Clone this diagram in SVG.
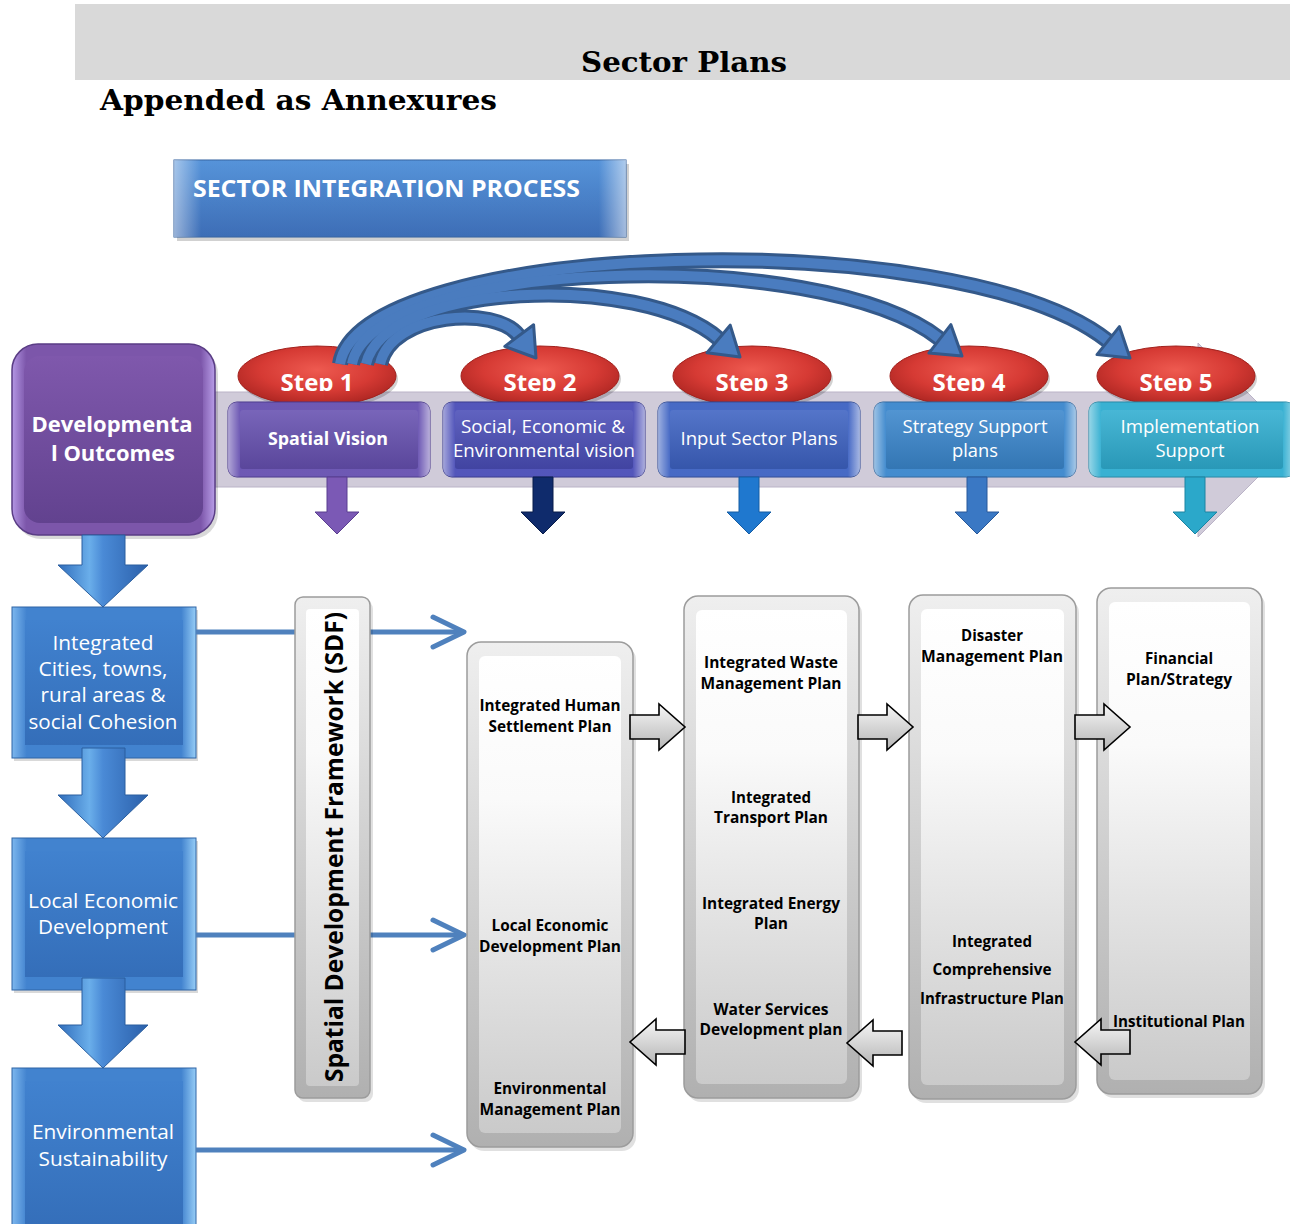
<svg xmlns="http://www.w3.org/2000/svg" width="1290" height="1224" viewBox="0 0 1290 1224">
<defs>
<style>
.hdr{font-family:"DejaVu Serif","Liberation Serif",serif;font-weight:bold;font-size:28px;fill:#000}
.w{font-family:"Open Sans","Noto Sans",sans-serif;fill:#fff}
.b{font-weight:700}
.mid{text-anchor:middle}
.col{font-family:"Open Sans","Noto Sans",sans-serif;font-weight:700;font-size:15.5px;fill:#000;text-anchor:middle}
.hline{stroke:#4f81bd;stroke-width:5;fill:none}
.ahead{stroke:#4f81bd;stroke-width:5;fill:none;stroke-linecap:round;stroke-linejoin:round}
.blk{fill:url(#blkG);stroke:#000;stroke-width:1.6}
.colOut{fill:url(#colOuter);stroke:#9c9c9c;stroke-width:1.5}
.colIn{fill:url(#colInner)}
.edge{fill:url(#edgeHi)}
.shade{fill:url(#vShade)}
.oval{fill:url(#redG);stroke:#a3221e;stroke-width:1}
.ovalSh{fill:#000;opacity:0.18}
.curveOut{fill:none;stroke:#34598a;stroke-width:16;stroke-linecap:butt}
.curveIn{fill:none;stroke:#4a7cbf;stroke-width:10;stroke-linecap:butt}
.chead{fill:#4a7cbf;stroke:#34598a;stroke-width:3;stroke-linejoin:round}
.bdown{fill:url(#blueArrow);stroke:#2b5f9f;stroke-width:1}
</style>
<linearGradient id="titleG" x1="0" y1="0" x2="0" y2="1"><stop offset="0" stop-color="#4d8ed8"/><stop offset="1" stop-color="#3366b2"/></linearGradient>
<linearGradient id="purpleFrame" x1="0" y1="0" x2="1" y2="0"><stop offset="0" stop-color="#b497e4"/><stop offset="0.07" stop-color="#7c56aa"/><stop offset="0.93" stop-color="#7c56aa"/><stop offset="1" stop-color="#b99ee8"/></linearGradient>
<linearGradient id="purpleInner" x1="0" y1="0" x2="0" y2="1"><stop offset="0" stop-color="#7f58ac"/><stop offset="1" stop-color="#62428f"/></linearGradient>
<radialGradient id="redG" cx="0.5" cy="0.4" r="0.6"><stop offset="0" stop-color="#ee5a50"/><stop offset="0.6" stop-color="#d63a34"/><stop offset="1" stop-color="#ad2622"/></radialGradient>
<linearGradient id="edgeHi" x1="0" y1="0" x2="1" y2="0"><stop offset="0" stop-color="#fff" stop-opacity="0.5"/><stop offset="0.06" stop-color="#fff" stop-opacity="0.05"/><stop offset="0.94" stop-color="#fff" stop-opacity="0.05"/><stop offset="1" stop-color="#fff" stop-opacity="0.55"/></linearGradient>
<linearGradient id="vShade" x1="0" y1="0" x2="0" y2="1"><stop offset="0" stop-color="#fff" stop-opacity="0.12"/><stop offset="1" stop-color="#000" stop-opacity="0.12"/></linearGradient>
<linearGradient id="colOuter" x1="0" y1="0" x2="0" y2="1"><stop offset="0" stop-color="#efefef"/><stop offset="1" stop-color="#b0b0b0"/></linearGradient>
<linearGradient id="colInner" x1="0" y1="0" x2="0" y2="1"><stop offset="0" stop-color="#ffffff"/><stop offset="0.3" stop-color="#fafafa"/><stop offset="1" stop-color="#cacaca"/></linearGradient>
<linearGradient id="blkG" x1="0" y1="0" x2="0" y2="1"><stop offset="0" stop-color="#f7f7f7"/><stop offset="1" stop-color="#b5b5b5"/></linearGradient>
<linearGradient id="blueFrame" x1="0" y1="0" x2="1" y2="0"><stop offset="0" stop-color="#7db7ee"/><stop offset="0.08" stop-color="#4283cf"/><stop offset="0.92" stop-color="#4283cf"/><stop offset="1" stop-color="#96cdf6"/></linearGradient>
<linearGradient id="blueInner" x1="0" y1="0" x2="0" y2="1"><stop offset="0" stop-color="#4182cf"/><stop offset="1" stop-color="#346eb9"/></linearGradient>
<linearGradient id="blueArrow" x1="0" y1="0" x2="1" y2="0"><stop offset="0" stop-color="#2f6cbb"/><stop offset="0.35" stop-color="#6aaeea"/><stop offset="0.5" stop-color="#4a8ad6"/><stop offset="1" stop-color="#2b60aa"/></linearGradient>
<clipPath id="stepClip"><rect x="200" y="330" width="1090" height="61"/></clipPath>
</defs>
<rect width="1290" height="1224" fill="#fff"/>

<g id="header">
<rect x="75" y="4" width="1215" height="76" fill="#d9d9d9"/>
<text x="684" y="72" class="hdr mid" textLength="206" lengthAdjust="spacingAndGlyphs">Sector Plans</text>
<text x="100" y="110" class="hdr" textLength="397" lengthAdjust="spacingAndGlyphs">Appended as Annexures</text>
</g>

<g id="title-sector-integration">
<rect x="177" y="164" width="452" height="77" fill="#000" opacity="0.18"/>
<rect x="174" y="160" width="452" height="77" fill="url(#titleG)" stroke="#2f5f9e"/>
<rect x="174" y="160" width="452" height="77" class="edge"/>
<text x="193" y="197" class="w b" font-size="24" textLength="387" lengthAdjust="spacingAndGlyphs">SECTOR INTEGRATION PROCESS</text>
</g>

<g id="process-band">
<polygon points="215,392 1198,392 1198,343 1295,440 1198,537 1198,487 215,487" fill="#d0cbd9" stroke="#bab3c7" stroke-width="1"/>
</g>

<g id="developmental-outcomes">
<rect x="15" y="348" width="203" height="191" rx="26" fill="#000" opacity="0.15"/>
<rect x="12" y="344" width="203" height="191" rx="26" fill="url(#purpleFrame)" stroke="#5a3d85" stroke-width="1.5"/>
<rect x="24" y="356" width="179" height="167" rx="16" fill="url(#purpleInner)"/>
<text x="112" y="432" class="w b mid" font-size="22" textLength="161" lengthAdjust="spacingAndGlyphs">Developmenta</text>
<text x="113" y="461" class="w b mid" font-size="22" textLength="124" lengthAdjust="spacingAndGlyphs">l Outcomes</text>
</g>

<g id="step-1"><ellipse cx="319" cy="379" rx="79" ry="30" class="ovalSh"/><ellipse cx="317" cy="376" rx="79" ry="30" class="oval"/><text x="317" y="391" class="w b mid" font-size="24" textLength="73" lengthAdjust="spacingAndGlyphs" clip-path="url(#stepClip)">Step 1</text></g>
<g id="step-2"><ellipse cx="542" cy="379" rx="79" ry="30" class="ovalSh"/><ellipse cx="540" cy="376" rx="79" ry="30" class="oval"/><text x="540" y="391" class="w b mid" font-size="24" textLength="73" lengthAdjust="spacingAndGlyphs" clip-path="url(#stepClip)">Step 2</text></g>
<g id="step-3"><ellipse cx="754" cy="379" rx="79" ry="30" class="ovalSh"/><ellipse cx="752" cy="376" rx="79" ry="30" class="oval"/><text x="752" y="391" class="w b mid" font-size="24" textLength="73" lengthAdjust="spacingAndGlyphs" clip-path="url(#stepClip)">Step 3</text></g>
<g id="step-4"><ellipse cx="971" cy="379" rx="79" ry="30" class="ovalSh"/><ellipse cx="969" cy="376" rx="79" ry="30" class="oval"/><text x="969" y="391" class="w b mid" font-size="24" textLength="73" lengthAdjust="spacingAndGlyphs" clip-path="url(#stepClip)">Step 4</text></g>
<g id="step-5"><ellipse cx="1178" cy="379" rx="79" ry="30" class="ovalSh"/><ellipse cx="1176" cy="376" rx="79" ry="30" class="oval"/><text x="1176" y="391" class="w b mid" font-size="24" textLength="73" lengthAdjust="spacingAndGlyphs" clip-path="url(#stepClip)">Step 5</text></g>

<g id="box-spatial-vision">
<rect x="228" y="402" width="202" height="75" rx="9" fill="#6650b0" stroke="#46348a"/>
<rect x="228" y="402" width="202" height="75" rx="9" class="edge"/>
<rect x="240" y="410" width="178" height="59" rx="3" fill="#6650b0"/>
<rect x="240" y="410" width="178" height="59" rx="3" class="shade"/>
<text x="328" y="445" class="w b mid" font-size="18" textLength="120" lengthAdjust="spacingAndGlyphs">Spatial Vision</text>
</g>
<g id="box-social-economic">
<rect x="443" y="402" width="202" height="75" rx="9" fill="#4a4db7" stroke="#32348c"/>
<rect x="443" y="402" width="202" height="75" rx="9" class="edge"/>
<rect x="455" y="410" width="178" height="59" rx="3" fill="#4a4db7"/>
<rect x="455" y="410" width="178" height="59" rx="3" class="shade"/>
<text x="543" y="433" class="w mid" font-size="18" textLength="164" lengthAdjust="spacingAndGlyphs">Social, Economic &amp;</text>
<text x="544" y="457" class="w mid" font-size="18" textLength="182" lengthAdjust="spacingAndGlyphs">Environmental vision</text>
</g>
<g id="box-input-sector-plans">
<rect x="658" y="402" width="202" height="75" rx="9" fill="#3d62c2" stroke="#2a4794"/>
<rect x="658" y="402" width="202" height="75" rx="9" class="edge"/>
<rect x="670" y="410" width="178" height="59" rx="3" fill="#3d62c2"/>
<rect x="670" y="410" width="178" height="59" rx="3" class="shade"/>
<text x="759" y="445" class="w mid" font-size="18" textLength="157" lengthAdjust="spacingAndGlyphs">Input Sector Plans</text>
</g>
<g id="box-strategy-support">
<rect x="874" y="402" width="202" height="75" rx="9" fill="#3a86cc" stroke="#29649e"/>
<rect x="874" y="402" width="202" height="75" rx="9" class="edge"/>
<rect x="886" y="410" width="178" height="59" rx="3" fill="#3a86cc"/>
<rect x="886" y="410" width="178" height="59" rx="3" class="shade"/>
<text x="975" y="433" class="w mid" font-size="18" textLength="145" lengthAdjust="spacingAndGlyphs">Strategy Support</text>
<text x="975" y="457" class="w mid" font-size="18" textLength="46" lengthAdjust="spacingAndGlyphs">plans</text>
</g>
<g id="box-implementation-support">
<rect x="1089" y="402" width="206" height="75" rx="9" fill="#2fadd0" stroke="#1f86a4"/>
<rect x="1089" y="402" width="206" height="75" rx="9" class="edge"/>
<rect x="1101" y="410" width="182" height="59" rx="3" fill="#2fadd0"/>
<rect x="1101" y="410" width="182" height="59" rx="3" class="shade"/>
<text x="1190" y="433" class="w mid" font-size="18" textLength="139" lengthAdjust="spacingAndGlyphs">Implementation</text>
<text x="1190" y="457" class="w mid" font-size="18" textLength="69" lengthAdjust="spacingAndGlyphs">Support</text>
</g>

<g id="outcome-integrated-cities">
<rect x="14" y="610" width="184" height="151" fill="#000" opacity="0.15"/>
<rect x="12" y="607" width="184" height="151" fill="url(#blueFrame)" stroke="#2e64a6"/>
<rect x="25" y="620" width="158" height="125" fill="url(#blueInner)"/>
<text x="103" y="650" class="w mid" font-size="20" textLength="101" lengthAdjust="spacingAndGlyphs">Integrated</text>
<text x="103" y="676" class="w mid" font-size="20" textLength="129" lengthAdjust="spacingAndGlyphs">Cities, towns,</text>
<text x="103" y="702" class="w mid" font-size="20" textLength="125" lengthAdjust="spacingAndGlyphs">rural areas &amp;</text>
<text x="103" y="729" class="w mid" font-size="20" textLength="149" lengthAdjust="spacingAndGlyphs">social Cohesion</text>
</g>
<g id="outcome-local-economic">
<rect x="14" y="841" width="184" height="152" fill="#000" opacity="0.15"/>
<rect x="12" y="838" width="184" height="152" fill="url(#blueFrame)" stroke="#2e64a6"/>
<rect x="25" y="851" width="158" height="126" fill="url(#blueInner)"/>
<text x="103" y="908" class="w mid" font-size="20" textLength="150" lengthAdjust="spacingAndGlyphs">Local Economic</text>
<text x="103" y="934" class="w mid" font-size="20" textLength="130" lengthAdjust="spacingAndGlyphs">Development</text>
</g>
<g id="outcome-environmental">
<rect x="12" y="1068" width="184" height="165" fill="url(#blueFrame)" stroke="#2e64a6"/>
<rect x="25" y="1081" width="158" height="150" fill="url(#blueInner)"/>
<text x="103" y="1139" class="w mid" font-size="20" textLength="142" lengthAdjust="spacingAndGlyphs">Environmental</text>
<text x="103" y="1166" class="w mid" font-size="20" textLength="129" lengthAdjust="spacingAndGlyphs">Sustainability</text>
</g>

<g id="column-1">
<rect x="470" y="646" width="166" height="505" rx="14" fill="#000" opacity="0.12"/>
<rect x="467" y="642" width="166" height="505" rx="14" class="colOut"/>
<rect x="479" y="656" width="142" height="477" rx="6" class="colIn"/>
<text x="550" y="711" class="col" textLength="141" lengthAdjust="spacingAndGlyphs">Integrated Human</text>
<text x="550" y="732" class="col" textLength="123" lengthAdjust="spacingAndGlyphs">Settlement Plan</text>
<text x="550" y="931" class="col" textLength="117" lengthAdjust="spacingAndGlyphs">Local Economic</text>
<text x="550" y="952" class="col" textLength="142" lengthAdjust="spacingAndGlyphs">Development Plan</text>
<text x="550" y="1094" class="col" textLength="113" lengthAdjust="spacingAndGlyphs">Environmental</text>
<text x="550" y="1115" class="col" textLength="141" lengthAdjust="spacingAndGlyphs">Management Plan</text>
</g>
<g id="column-2">
<rect x="687" y="600" width="175" height="502" rx="14" fill="#000" opacity="0.12"/>
<rect x="684" y="596" width="175" height="502" rx="14" class="colOut"/>
<rect x="696" y="610" width="151" height="474" rx="6" class="colIn"/>
<text x="771" y="668" class="col" textLength="134" lengthAdjust="spacingAndGlyphs">Integrated Waste</text>
<text x="771" y="689" class="col" textLength="141" lengthAdjust="spacingAndGlyphs">Management Plan</text>
<text x="771" y="803" class="col" textLength="80" lengthAdjust="spacingAndGlyphs">Integrated</text>
<text x="771" y="823" class="col" textLength="114" lengthAdjust="spacingAndGlyphs">Transport Plan</text>
<text x="771" y="909" class="col" textLength="138" lengthAdjust="spacingAndGlyphs">Integrated Energy</text>
<text x="771" y="929" class="col" textLength="34" lengthAdjust="spacingAndGlyphs">Plan</text>
<text x="771" y="1015" class="col" textLength="115" lengthAdjust="spacingAndGlyphs">Water Services</text>
<text x="771" y="1035" class="col" textLength="143" lengthAdjust="spacingAndGlyphs">Development plan</text>
</g>
<g id="column-3">
<rect x="912" y="599" width="167" height="504" rx="14" fill="#000" opacity="0.12"/>
<rect x="909" y="595" width="167" height="504" rx="14" class="colOut"/>
<rect x="921" y="609" width="143" height="476" rx="6" class="colIn"/>
<text x="992" y="641" class="col" textLength="62" lengthAdjust="spacingAndGlyphs">Disaster</text>
<text x="992" y="662" class="col" textLength="142" lengthAdjust="spacingAndGlyphs">Management Plan</text>
<text x="992" y="947" class="col" textLength="80" lengthAdjust="spacingAndGlyphs">Integrated</text>
<text x="992" y="975" class="col" textLength="119" lengthAdjust="spacingAndGlyphs">Comprehensive</text>
<text x="992" y="1004" class="col" textLength="144" lengthAdjust="spacingAndGlyphs">Infrastructure Plan</text>
</g>
<g id="column-4">
<rect x="1100" y="592" width="165" height="506" rx="14" fill="#000" opacity="0.12"/>
<rect x="1097" y="588" width="165" height="506" rx="14" class="colOut"/>
<rect x="1109" y="602" width="141" height="478" rx="6" class="colIn"/>
<text x="1179" y="664" class="col" textLength="68" lengthAdjust="spacingAndGlyphs">Financial</text>
<text x="1179" y="685" class="col" textLength="106" lengthAdjust="spacingAndGlyphs">Plan/Strategy</text>
<text x="1179" y="1027" class="col" textLength="132" lengthAdjust="spacingAndGlyphs">Institutional Plan</text>
</g>

<g id="connectors">
<path class="curveOut" d="M340 364 C360 240 958 221 1108 341"/>
<path class="curveOut" d="M352 364 C372 258 820 244 940 339"/>
<path class="curveOut" d="M366 364 C385 282 640 271 719 339"/>
<path class="curveOut" d="M380 364 C392 312 496 305 519 336"/>
<path class="curveIn" d="M340 364 C360 240 958 221 1108 341"/>
<path class="curveIn" d="M352 364 C372 258 820 244 940 339"/>
<path class="curveIn" d="M366 364 C385 282 640 271 719 339"/>
<path class="curveIn" d="M380 364 C392 312 496 305 519 336"/>
<polygon class="chead" points="1097,354.6 1119.4,326.6 1130,358"/>
<polygon class="chead" points="928.9,353.1 950.9,324.7 962,356"/>
<polygon class="chead" points="707,352.8 730.2,325.2 740,357"/>
<polygon class="chead" points="504.8,346.4 533.6,324.8 536,358"/>
<polygon points="327,477 347,477 347,512 359,512 337,534 315,512 327,512" fill="#7b59b5" stroke="#5b3f90" stroke-width="1"/>
<polygon points="533,477 553,477 553,512 565,512 543,534 521,512 533,512" fill="#0f2b6c" stroke="#081c4a" stroke-width="1"/>
<polygon points="739,477 759,477 759,512 771,512 749,534 727,512 739,512" fill="#1f78cf" stroke="#155ca3" stroke-width="1"/>
<polygon points="967,477 987,477 987,512 999,512 977,534 955,512 967,512" fill="#3a78c4" stroke="#28599a" stroke-width="1"/>
<polygon points="1185,477 1205,477 1205,512 1217,512 1195,534 1173,512 1185,512" fill="#2ba8ca" stroke="#1c84a2" stroke-width="1"/>
<polygon class="bdown" points="82,535 125,535 125,565 148,565 103,607 58,565 82,565"/>
<polygon class="bdown" points="82,748 125,748 125,795 148,795 103,838 58,795 82,795"/>
<polygon class="bdown" points="82,978 125,978 125,1025 148,1025 103,1068 58,1025 82,1025"/>
<line class="hline" x1="196" y1="632" x2="462" y2="632"/>
<polyline class="ahead" points="433,617 464,632 433,647"/>
<line class="hline" x1="196" y1="935" x2="462" y2="935"/>
<polyline class="ahead" points="433,920 464,935 433,950"/>
<line class="hline" x1="196" y1="1150" x2="462" y2="1150"/>
<polyline class="ahead" points="433,1135 464,1150 433,1165"/>
<polygon class="blk" points="630,715 659,715 659,704 685,727 659,750 659,739 630,739"/>
<polygon class="blk" points="858,715 887,715 887,704 913,727 887,750 887,739 858,739"/>
<polygon class="blk" points="1075,715 1104,715 1104,704 1130,727 1104,750 1104,739 1075,739"/>
<polygon class="blk" points="1130,1030 1101,1030 1101,1019 1075,1042 1101,1065 1101,1054 1130,1054"/>
<polygon class="blk" points="902,1031 873,1031 873,1020 847,1043 873,1066 873,1055 902,1055"/>
<polygon class="blk" points="685,1030 656,1030 656,1019 630,1042 656,1065 656,1054 685,1054"/>
</g>

<g id="sdf">
<rect x="298" y="601" width="75" height="501" rx="8" fill="#000" opacity="0.12"/>
<rect x="295" y="597" width="75" height="501" rx="8" class="colOut"/>
<rect x="306" y="609" width="53" height="477" rx="4" class="colIn"/>
<text transform="translate(343,847) rotate(-90)" x="0" y="0" font-family="Open Sans, Noto Sans, sans-serif" font-weight="700" font-size="25" fill="#000" text-anchor="middle" textLength="470" lengthAdjust="spacingAndGlyphs">Spatial Development Framework (SDF)</text>
</g>
</svg>
